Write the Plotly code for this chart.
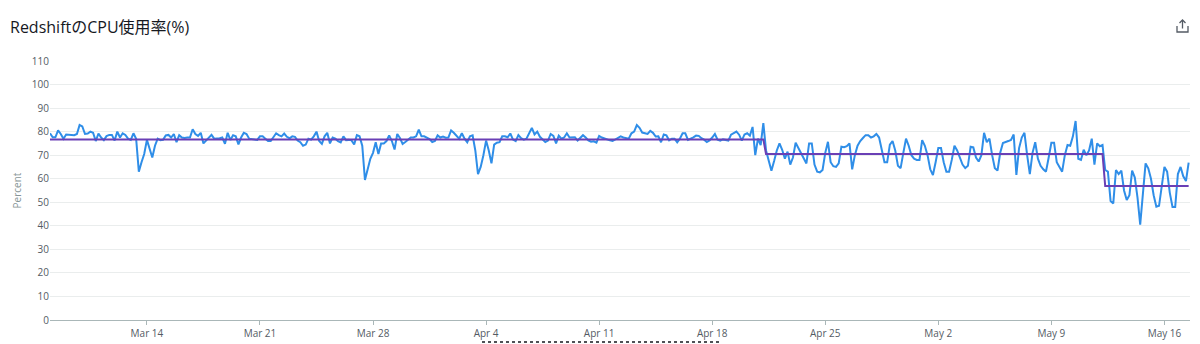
import pandas as pd
import plotly.graph_objects as go

# ---- data (4-hour samples, starting 2025-03-08 00:00) ----
start_time = "2025-03-08 00:00"
sample_freq = "4h"
cpu_values = [
    79.3, 77.6, 77.6, 80.5, 79.0, 77.0,   # Mar 8
    78.8, 78.6, 78.5, 78.5, 79.0, 82.8,   # Mar 9
    82.2, 79.0, 79.2, 80.0, 79.5, 76.0,   # Mar 10
    79.2, 77.5, 76.4, 78.1, 78.6, 78.6,   # Mar 11
    76.2, 80.0, 77.5, 79.3, 78.6, 77.0,   # Mar 12
    76.5, 79.3, 77.0, 63.0, 67.0, 70.5,   # Mar 13
    76.5, 72.5, 69.0, 74.0, 77.0, 76.4,   # Mar 14
    76.5, 78.4, 78.6, 77.5, 79.0, 75.5,   # Mar 15
    78.5, 77.5, 77.3, 77.5, 77.5, 81.0,   # Mar 16
    79.0, 78.2, 79.5, 75.0, 76.2, 77.5,   # Mar 17
    78.6, 77.0, 77.0, 77.2, 77.5, 74.8,   # Mar 18
    79.5, 76.5, 78.5, 78.0, 74.6, 77.5,   # Mar 19
    79.5, 79.0, 77.0, 76.8, 76.8, 76.5,   # Mar 20
    78.0, 78.0, 77.0, 76.0, 76.0, 77.5,   # Mar 21
    79.3, 78.5, 78.0, 79.2, 77.8, 77.2,   # Mar 22
    78.0, 77.8, 76.2, 75.5, 74.0, 74.5,   # Mar 23
    77.0, 76.6, 78.0, 80.0, 76.0, 74.8,   # Mar 24
    78.0, 79.5, 75.0, 77.5, 77.0, 76.0,   # Mar 25
    75.4, 78.0, 76.4, 76.5, 76.3, 74.6,   # Mar 26
    78.5, 78.0, 74.0, 59.5, 64.5, 68.5,   # Mar 27
    71.0, 75.5, 70.5, 75.0, 75.0, 76.0,   # Mar 28
    78.4, 76.0, 72.4, 79.0, 77.3, 74.8,   # Mar 29
    75.6, 76.7, 77.5, 77.5, 78.0, 80.8,   # Mar 30
    78.0, 78.0, 77.5, 76.8, 75.6, 76.0,   # Mar 31
    78.4, 77.5, 77.9, 77.4, 77.5, 80.5,   # Apr 1
    79.5, 78.0, 77.0, 79.3, 77.0, 75.5,   # Apr 2
    78.0, 78.4, 72.0, 62.0, 65.0, 70.0,   # Apr 3
    76.2, 72.0, 66.5, 74.5, 75.3, 75.5,   # Apr 4
    78.0, 78.0, 77.6, 79.2, 76.6, 76.0,   # Apr 5
    78.5, 77.2, 76.6, 77.0, 79.0, 81.6,   # Apr 6
    78.8, 80.0, 77.8, 76.5, 75.6, 76.2,   # Apr 7
    79.0, 78.2, 75.0, 78.3, 77.0, 77.5,   # Apr 8
    79.3, 77.5, 77.5, 77.6, 76.2, 77.5,   # Apr 9
    78.5, 77.5, 76.3, 75.7, 75.9, 75.3,   # Apr 10
    78.2, 77.5, 77.0, 76.6, 76.3, 76.0,   # Apr 11
    76.6, 77.3, 78.0, 77.5, 77.2, 77.0,   # Apr 12
    79.3, 80.0, 82.8, 81.6, 79.6, 79.3,   # Apr 13
    79.0, 80.3, 79.5, 77.9, 78.0, 75.5,   # Apr 14
    78.8, 78.4, 76.3, 77.0, 77.0, 75.5,   # Apr 15
    77.0, 79.3, 79.3, 76.5, 76.9, 77.6,   # Apr 16
    78.3, 78.2, 77.2, 76.6, 75.6, 76.3,   # Apr 17
    77.5, 79.0, 76.6, 76.2, 76.7, 76.5,   # Apr 18
    76.2, 78.7, 79.2, 80.0, 78.7, 76.2,   # Apr 19
    78.8, 79.3, 78.3, 82.0, 70.0, 77.0,   # Apr 20
    74.3, 83.6, 72.0, 68.0, 63.4, 67.5,   # Apr 21
    72.0, 75.0, 72.3, 68.5, 71.5, 66.0,   # Apr 22
    69.0, 75.3, 73.0, 71.0, 68.5, 66.5,   # Apr 23
    75.0, 75.0, 66.0, 63.0, 62.7, 63.7,   # Apr 24
    71.0, 75.7, 67.0, 65.3, 65.0, 66.5,   # Apr 25
    73.6, 73.4, 73.8, 75.0, 64.0, 70.0,   # Apr 26
    74.0, 76.0, 77.3, 78.5, 78.5, 77.5,   # Apr 27
    78.0, 79.0, 77.5, 72.0, 67.0, 67.0,   # Apr 28
    74.5, 76.0, 72.0, 65.5, 64.5, 71.0,   # Apr 29
    77.0, 74.0, 70.0, 68.5, 68.0, 68.0,   # Apr 30
    76.4, 74.0, 70.0, 64.0, 61.6, 67.0,   # May 1
    73.0, 73.0, 67.0, 63.0, 63.0, 68.0,   # May 2
    74.0, 72.0, 69.0, 66.0, 64.5, 65.5,   # May 3
    73.6, 73.3, 69.0, 67.3, 70.0, 79.5,   # May 4
    75.5, 77.0, 70.0, 64.5, 63.5, 71.0,   # May 5
    75.2, 75.5, 76.0, 76.5, 78.8, 61.6,   # May 6
    73.0, 77.5, 79.5, 70.0, 62.0, 71.0,   # May 7
    75.5, 68.5, 65.5, 64.0, 63.0, 69.0,   # May 8
    75.3, 75.3, 67.0, 65.0, 63.0, 70.0,   # May 9
    74.3, 74.0, 78.0, 84.5, 68.5, 68.0,   # May 10
    72.3, 70.0, 72.0, 77.0, 66.0, 75.0,   # May 11
    73.8, 74.3, 63.7, 63.0, 50.5, 49.5,   # May 12
    63.7, 62.0, 63.4, 55.0, 51.0, 53.0,   # May 13
    63.4, 60.5, 52.0, 40.5, 55.0, 66.5,   # May 14
    64.4, 60.0, 53.0, 48.1, 48.5, 57.0,   # May 15
    65.0, 63.0, 54.0, 48.0, 48.0, 62.0,   # May 16
    65.0, 61.0, 59.0, 66.8,               # May 17
]

step_times = ["2025-03-08 00:00", "2025-04-21 04:00", "2025-04-21 08:00",
              "2025-05-12 04:00", "2025-05-12 08:00", "2025-05-17 12:00"]
step_values = [76.7, 76.7, 70.5, 70.5, 56.9, 56.9]

tick_dates = ["2025-03-14", "2025-03-21", "2025-03-28", "2025-04-04", "2025-04-11",
              "2025-04-18", "2025-04-25", "2025-05-02", "2025-05-09", "2025-05-16"]
tick_labels = ["Mar 14", "Mar 21", "Mar 28", "Apr 4", "Apr 11",
               "Apr 18", "Apr 25", "May 2", "May 9", "May 16"]
y_ticks = [0, 10, 20, 30, 40, 50, 60, 70, 80, 90, 100, 110]

title_text = "RedshiftのCPU使用率(%)"
y_title = "Percent"

times = pd.date_range(start_time, periods=len(cpu_values), freq=sample_freq)

FONT = "Open Sans, Noto Sans CJK JP, sans-serif"

fig = go.Figure()
fig.add_trace(go.Scatter(x=times, y=cpu_values, mode="lines",
                         line=dict(color="#2f8ee8", width=2), name="CPU"))
fig.add_trace(go.Scatter(x=pd.to_datetime(step_times), y=step_values, mode="lines",
                         line=dict(color="#6a3fb5", width=2), name="baseline"))

L, R, T, B = 50, 10, 61, 24
W, H = 1200, 344
pw, ph = W - L - R, H - T - B

def px_x(x):
    return (x - L) / pw

def px_y(y):
    return (H - B - y) / ph

shapes = []
# dotted underline below axis
shapes.append(dict(type="line", xref="paper", yref="paper",
                   x0=px_x(482), x1=px_x(720), y0=px_y(342), y1=px_y(342),
                   line=dict(color="#16191f", width=1.5, dash="dot")))
# share / export icon
ic = "#545b64"
tray = "M {} {} L {} {} L {} {} L {} {}".format(
    px_x(1177), px_y(26), px_x(1177), px_y(32), px_x(1188), px_y(32), px_x(1188), px_y(26))
shapes.append(dict(type="path", xref="paper", yref="paper", path=tray,
                   line=dict(color=ic, width=1.3)))
shapes.append(dict(type="line", xref="paper", yref="paper",
                   x0=px_x(1182.5), x1=px_x(1182.5), y0=px_y(20), y1=px_y(28.5),
                   line=dict(color=ic, width=1.3)))
head = "M {} {} L {} {} L {} {}".format(
    px_x(1179.5), px_y(23), px_x(1182.5), px_y(20), px_x(1185.5), px_y(23))
shapes.append(dict(type="path", xref="paper", yref="paper", path=head,
                   line=dict(color=ic, width=1.3)))

fig.update_layout(
    width=W, height=H,
    margin=dict(l=L, r=R, t=T, b=B, autoexpand=False),
    paper_bgcolor="white", plot_bgcolor="white",
    showlegend=False,
    font=dict(family=FONT, size=10, color="#545b64"),
    title=dict(text=title_text, xref="container", yref="container",
               x=10 / W, y=1 - 27 / H, xanchor="left", yanchor="middle",
               font=dict(family=FONT, size=16, color="#16191f")),
    shapes=shapes,
    xaxis=dict(
        type="date", automargin=False,
        range=["2025-03-08 00:00", "2025-05-17 14:00"],
        tickvals=pd.to_datetime(tick_dates), ticktext=tick_labels,
        showgrid=False, showline=True, linecolor="#aab7b8", linewidth=1,
        ticks="outside", ticklen=4, tickcolor="#aab7b8",
        tickfont=dict(size=10, color="#545b64"),
        zeroline=False, fixedrange=True,
    ),
    yaxis=dict(
        automargin=False,
        range=[0, 110], tickvals=y_ticks,
        showgrid=True, gridcolor="#eaeded", gridwidth=1,
        zeroline=False, showline=False,
        ticks="", tickfont=dict(size=10, color="#545b64"),
        title=dict(text=y_title, font=dict(size=10, color="#879596"), standoff=8),
        fixedrange=True,
    ),
)

fig.write_html("out.html")
